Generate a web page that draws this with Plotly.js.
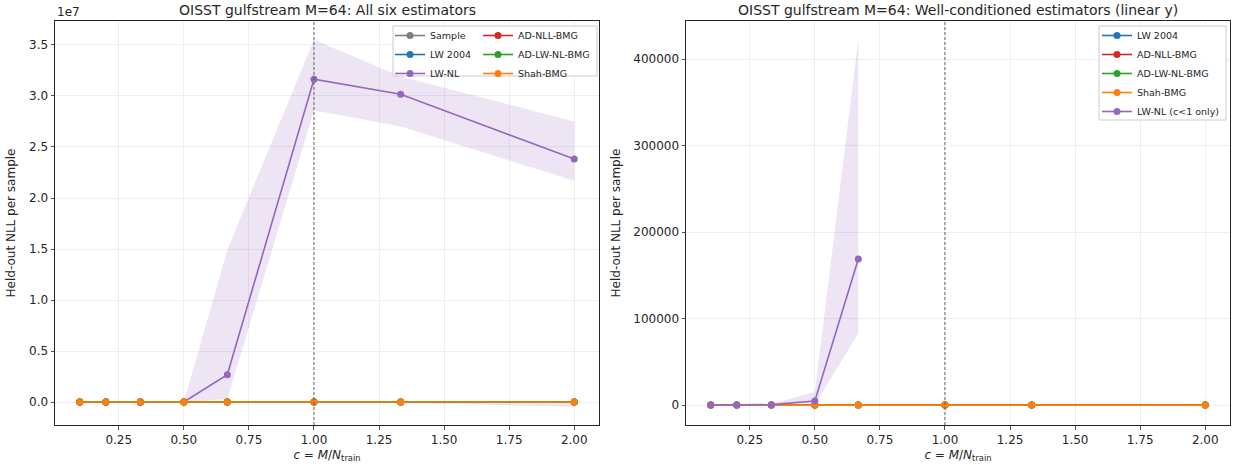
<!DOCTYPE html>
<html>
<head>
<meta charset="utf-8">
<script src="https://cdn.plot.ly/plotly-3.0.1.min.js"></script>
<style>html,body{margin:0;padding:0;background:#fff;}#chart{width:1233px;height:465px;}</style>
</head>
<body>
<div id="chart"></div>
<script>
// ---- data ----
const cValues = [0.1, 0.2, 0.333, 0.5, 0.667, 1.0, 1.333, 2.0];
const cBelowOne = [0.1, 0.2, 0.333, 0.5, 0.667];

// Left panel: all six estimators
const sampleNLL   = [-60, 40, 300, 1800, 9000, null, null, null];
const lw2004NLL   = [-80, -95, -102, -106, -108, -110, -111, -112];
const lwnlNLL     = [90, 140, 450, 4600, 2.68e6, 3.165e7, 3.017e7, 2.382e7];
const lwnlLow     = [-200, -300, -500, -1000, 3.0e5, 2.86e7, 2.70e7, 2.17e7];
const lwnlHigh    = [400, 600, 1500, 2.0e4, 1.49e7, 3.55e7, 3.19e7, 2.75e7];
const adNllNLL    = [-85, -98, -104, -107, -109, -111, -112, -113];
const adLwNlNLL   = [-84, -97, -103, -107, -109, -111, -112, -113];
const shahNLL     = [-86, -99, -105, -108, -110, -112, -113, -114];
const lw2004LowL  = [-90, -105, -112, -116, -118, -120, -1.0e5, -4.5e5];
const lw2004HighL = [-70, -85, -92, -96, -98, -100, -100, -100];

// Right panel: well-conditioned estimators (linear y)
const lw2004R     = [-80, -95, -102, -106, -108, -110, -111, -112];
const adNllR      = [-85, -98, -104, -107, -109, -111, -112, -113];
const adLwNlR     = [-84, -97, -103, -107, -109, -111, -112, -113];
const shahR       = [-86, -99, -105, -108, -110, -112, -113, -114];
const lwnlR       = [90, 140, 450, 4600, 168800];
const lwnlRLow    = [-300, -500, -800, 0, 82900];
const lwnlRHigh   = [500, 800, 1500, 15000, 422800];
const lw2004RLow  = [-90, -105, -112, -116, -118, -120, -800, -1500];
const lw2004RHigh = [-70, -85, -92, -96, -98, -100, -100, -100];

const leftTickVals = [0, 0.5e7, 1.0e7, 1.5e7, 2.0e7, 2.5e7, 3.0e7, 3.5e7];
const leftTickText = ['0.0', '0.5', '1.0', '1.5', '2.0', '2.5', '3.0', '3.5'];
const rightTickVals = [0, 100000, 200000, 300000, 400000];
const xTickVals = [0.25, 0.5, 0.75, 1.0, 1.25, 1.5, 1.75, 2.0];

const COL = {sample:'#7f7f7f', lw:'#1f77b4', lwnl:'#9467bd', adnll:'#d62728', adlw:'#2ca02c', shah:'#ff7f0e'};

function band(x, lo, hi, color, xa, ya) {
  const xs = x.concat(x.slice().reverse());
  const ys = hi.concat(lo.slice().reverse());
  return {x: xs, y: ys, xaxis: xa, yaxis: ya, type: 'scatter', mode: 'lines', fill: 'toself',
          fillcolor: color, line: {width: 0, color: 'rgba(0,0,0,0)'}, hoverinfo: 'skip', showlegend: false};
}
function series(name, x, y, color, xa, ya, legend, rank) {
  return {x: x, y: y, name: name, xaxis: xa, yaxis: ya, type: 'scatter', mode: 'lines+markers',
          line: {color: color, width: 1.6}, marker: {color: color, size: 7},
          legend: legend, legendrank: rank, connectgaps: false};
}

const traces = [
  band(cValues, lw2004LowL, lw2004HighL, 'rgba(127,127,127,0.18)', 'x', 'y'),
  band(cValues, lwnlLow, lwnlHigh, 'rgba(148,103,189,0.17)', 'x', 'y'),
  series('Sample', cValues, sampleNLL, COL.sample, 'x', 'y', 'legend', 1),
  series('LW 2004', cValues, lw2004NLL, COL.lw, 'x', 'y', 'legend', 2),
  series('LW-NL', cValues, lwnlNLL, COL.lwnl, 'x', 'y', 'legend', 3),
  series('AD-NLL-BMG', cValues, adNllNLL, COL.adnll, 'x', 'y', 'legend3', 1),
  series('AD-LW-NL-BMG', cValues, adLwNlNLL, COL.adlw, 'x', 'y', 'legend3', 2),
  series('Shah-BMG', cValues, shahNLL, COL.shah, 'x', 'y', 'legend3', 3),

  band(cValues, lw2004RLow, lw2004RHigh, 'rgba(127,127,127,0.18)', 'x2', 'y2'),
  band(cBelowOne, lwnlRLow, lwnlRHigh, 'rgba(148,103,189,0.17)', 'x2', 'y2'),
  series('LW 2004', cValues, lw2004R, COL.lw, 'x2', 'y2', 'legend2', 1),
  series('AD-NLL-BMG', cValues, adNllR, COL.adnll, 'x2', 'y2', 'legend2', 2),
  series('AD-LW-NL-BMG', cValues, adLwNlR, COL.adlw, 'x2', 'y2', 'legend2', 3),
  series('Shah-BMG', cValues, shahR, COL.shah, 'x2', 'y2', 'legend2', 4),
  series('LW-NL (c<1 only)', cBelowOne, lwnlR, COL.lwnl, 'x2', 'y2', 'legend2', 5)
];

const W = 1233, H = 465;
const FONT = 'DejaVu Sans, Liberation Sans, sans-serif';
const yTop = 1 - 21 / H, yBot = 1 - 425 / H;

const axisCommon = {
  showline: true, mirror: true, linecolor: '#262626', linewidth: 1,
  ticks: 'outside', ticklen: 3.5, tickwidth: 0.8, tickcolor: '#262626',
  showgrid: true, gridcolor: '#ebebeb', gridwidth: 0.8, zeroline: false,
  tickfont: {family: FONT, size: 12, color: '#262626'}
};

const xTitle = {text: '<i>c</i> = <i>M</i>/<i>N</i><sub>train</sub>', font: {family: FONT, size: 12, color: '#262626'}, standoff: 4};
const yTitle = {text: 'Held-out NLL per sample', font: {family: FONT, size: 12, color: '#262626'}, standoff: 10};

const legendFont = {family: FONT, size: 9.5, color: '#262626'};
const legTop = 1 - 21 / H;

const layout = {
  width: W, height: H,
  margin: {l: 0, r: 0, t: 0, b: 0},
  paper_bgcolor: '#fff', plot_bgcolor: '#fff',
  font: {family: FONT, color: '#262626'},
  showlegend: true,
  xaxis: Object.assign({}, axisCommon, {domain: [55 / W, 599 / W], range: [0.005, 2.095], anchor: 'y',
          tickvals: xTickVals, tickformat: '.2f', title: xTitle}),
  yaxis: Object.assign({}, axisCommon, {domain: [yBot, yTop], range: [-2.25e6, 3.735e7], anchor: 'x',
          tickvals: leftTickVals, ticktext: leftTickText, title: yTitle}),
  xaxis2: Object.assign({}, axisCommon, {domain: [686 / W, 1230 / W], range: [0.005, 2.095], anchor: 'y2',
          tickvals: xTickVals, tickformat: '.2f', title: xTitle}),
  yaxis2: Object.assign({}, axisCommon, {domain: [yBot, yTop], range: [-23100, 444000], anchor: 'x2',
          tickvals: rightTickVals, tickformat: 'd', title: yTitle}),
  legend: {x: 390 / W, y: legTop, xanchor: 'left', yanchor: 'top', orientation: 'v', traceorder: 'normal',
           bgcolor: 'rgba(0,0,0,0)', borderwidth: 0, font: legendFont, itemwidth: 30},
  legend3: {x: 478 / W, y: legTop, xanchor: 'left', yanchor: 'top', orientation: 'v', traceorder: 'normal',
           bgcolor: 'rgba(0,0,0,0)', borderwidth: 0, font: legendFont, itemwidth: 30},
  legend2: {x: 1097 / W, y: legTop, xanchor: 'left', yanchor: 'top', orientation: 'v', traceorder: 'normal',
           bgcolor: 'rgba(0,0,0,0)', borderwidth: 0, font: legendFont, itemwidth: 30},
  shapes: [
    {type: 'line', xref: 'x', yref: 'y domain', x0: 1.0, x1: 1.0, y0: 0, y1: 1,
     line: {color: '#555555', width: 0.9, dash: '3px,2px'}, layer: 'above'},
    {type: 'line', xref: 'x2', yref: 'y2 domain', x0: 1.0, x1: 1.0, y0: 0, y1: 1,
     line: {color: '#555555', width: 0.9, dash: '3px,2px'}, layer: 'above'},
    // legend frames
    {type: 'rect', xref: 'paper', yref: 'paper', x0: 393 / W, x1: 597 / W, y0: 1 - 26 / H, y1: 1 - 76 / H,
     fillcolor: 'rgba(255,255,255,0.85)', line: {color: '#cccccc', width: 1}, layer: 'above'},
    {type: 'rect', xref: 'paper', yref: 'paper', x0: 1099 / W, x1: 1226 / W, y0: 1 - 26 / H, y1: 1 - 120 / H,
     fillcolor: 'rgba(255,255,255,0.85)', line: {color: '#cccccc', width: 1}, layer: 'above'}
  ],
  annotations: [
    {text: 'OISST gulfstream M=64: All six estimators', xref: 'paper', yref: 'paper',
     x: 327 / W, y: 1 - 10 / H, xanchor: 'center', yanchor: 'middle', showarrow: false,
     font: {family: FONT, size: 14, color: '#262626'}},
    {text: 'OISST gulfstream M=64: Well-conditioned estimators (linear y)', xref: 'paper', yref: 'paper',
     x: 958 / W, y: 1 - 10 / H, xanchor: 'center', yanchor: 'middle', showarrow: false,
     font: {family: FONT, size: 14, color: '#262626'}},
    {text: '1e7', xref: 'paper', yref: 'paper', x: 55 / W, y: 1 - 12 / H, xanchor: 'left', yanchor: 'middle',
     showarrow: false, font: {family: FONT, size: 12, color: '#262626'}}
  ]
};

Plotly.newPlot('chart', traces, layout, {displayModeBar: false, staticPlot: true});
</script>
</body>
</html>
